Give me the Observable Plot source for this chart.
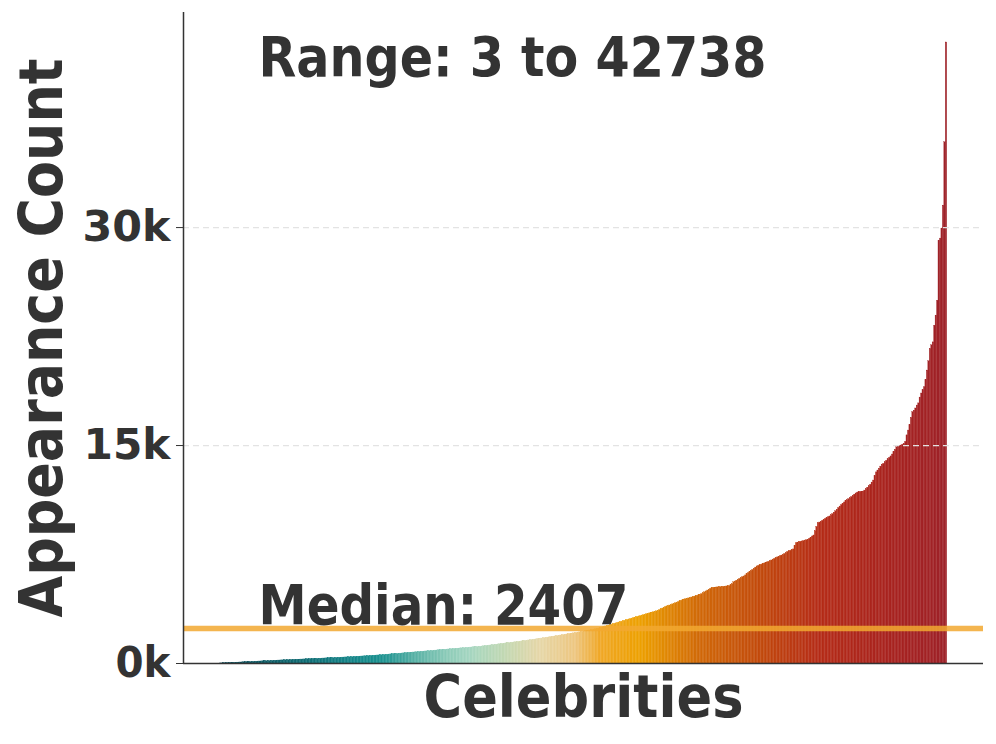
<!DOCTYPE html>
<html><head><meta charset="utf-8">
<script src="https://cdn.jsdelivr.net/npm/d3@7"></script>
<script src="https://cdn.jsdelivr.net/npm/@observablehq/plot@0.6"></script>
<style>body{margin:0;background:#fff;} svg{display:block;}</style>
</head><body><div id="chart"></div>
<script>
// Sorted appearance counts, one per celebrity
const appearanceCounts = [
3, 8, 13, 18, 22, 27, 31, 36, 40, 44,
49, 55, 60, 65, 70, 75, 80, 85, 90, 96,
100, 105, 110, 115, 120, 126, 131, 136, 141, 146,
151, 156, 161, 166, 171, 176, 181, 186, 191, 197,
202, 207, 211, 216, 220, 225, 229, 233, 238, 242,
246, 251, 255, 259, 264, 268, 272, 277, 281, 286,
290, 295, 300, 304, 309, 314, 318, 323, 328, 332,
337, 342, 347, 351, 356, 361, 366, 371, 376, 381,
386, 391, 396, 401, 406, 411, 416, 421, 426, 432,
437, 442, 448, 454, 460, 466, 473, 479, 486, 492,
499, 505, 512, 518, 525, 531, 538, 544, 551, 557,
565, 573, 581, 589, 597, 606, 614, 622, 630, 638,
646, 655, 663, 671, 680, 688, 696, 705, 713, 722,
731, 740, 748, 757, 766, 775, 783, 792, 801, 809,
818, 827, 835, 844, 853, 862, 870, 879, 888, 896,
905, 914, 922, 931, 940, 948, 957, 966, 974, 983,
992, 1000, 1009, 1018, 1026, 1035, 1044, 1052, 1061, 1070,
1078, 1087, 1096, 1104, 1113, 1122, 1130, 1139, 1148, 1156,
1168, 1181, 1194, 1207, 1220, 1233, 1246, 1259, 1272, 1285,
1298, 1311, 1324, 1337, 1350, 1362, 1375, 1387, 1400, 1412,
1425, 1437, 1450, 1462, 1474, 1487, 1499, 1513, 1528, 1542,
1557, 1571, 1586, 1600, 1615, 1630, 1644, 1659, 1673, 1688,
1702, 1718, 1734, 1750, 1766, 1782, 1798, 1814, 1830, 1846,
1862, 1878, 1894, 1910, 1926, 1942, 1958, 1974, 1991, 2008,
2025, 2042, 2058, 2075, 2092, 2109, 2126, 2142, 2159, 2176,
2195, 2215, 2235, 2254, 2274, 2294, 2313, 2333, 2353, 2373,
2395, 2425, 2456, 2487, 2517, 2548, 2579, 2609, 2640, 2670,
2700, 2731, 2761, 2791, 2821, 2852, 2882, 2912, 2942, 2973,
3002, 3032, 3062, 3092, 3122, 3152, 3182, 3212, 3241, 3271,
3300, 3329, 3358, 3388, 3417, 3446, 3475, 3504, 3534, 3563,
3590, 3630, 3680, 3730, 3780, 3830, 3880, 3930, 3960, 3990,
4030, 4070, 4110, 4150, 4190, 4230, 4280, 4320, 4360, 4400,
4430, 4460, 4480, 4510, 4540, 4570, 4600, 4630, 4660, 4700,
4730, 4780, 4840, 4900, 4960, 5020, 5080, 5140, 5190, 5210,
5220, 5230, 5240, 5250, 5260, 5270, 5280, 5290, 5300, 5310,
5320, 5380, 5450, 5590, 5640, 5700, 5760, 5820, 5880, 5940,
5990, 6060, 6140, 6220, 6290, 6370, 6440, 6520, 6600, 6680,
6720, 6760, 6800, 6840, 6880, 6920, 6960, 7000, 7050, 7090,
7150, 7200, 7250, 7300, 7340, 7390, 7430, 7480, 7540, 7600,
7680, 7720, 7760, 7800, 7850, 8100, 8280, 8320, 8350, 8380,
8400, 8430, 8460, 8480, 8520, 8580, 8660, 8740, 8810, 9100,
9400, 9650, 9700, 9750, 9820, 9880, 9950, 10000, 10060, 10120,
10200, 10280, 10380, 10480, 10580, 10700, 10800, 10900, 10990, 11080,
11170, 11240, 11310, 11380, 11460, 11540, 11620, 11700, 11760, 11790,
11800, 11810, 11830, 11900, 12000, 12100, 12200, 12300, 12450, 12590,
12900, 13150, 13280, 13400, 13550, 13680, 13740, 13850, 13950, 14050,
14150, 14250, 14380, 14550, 14700, 14880, 14920, 14960, 15000, 15050,
15100, 15250, 15700, 16030, 16400, 16900, 17300, 17400, 17550, 17750,
17900, 18300, 18580, 18800, 19010, 19500, 20160, 20800, 21650, 21900,
22100, 23250, 23940, 24970, 29100, 29240, 29930, 31510, 35870, 42738
];
const yTicks = [0, 15000, 30000];
const medianValue = 2407;
const rangeMin = 3;
const rangeMax = 42738;
const xAxisLabel = "Celebrities";
const yAxisLabel = "Appearance Count";
// colour gradient along the rank axis
const colorStopRanks = [0, 55, 89, 110, 137, 158, 172, 196, 220, 244, 261, 289, 330, 371, 412, 467, 499];
const colorStopColors = ["#0b4552", "#0f6a72", "#148488", "#1a918f", "#5fb5a8", "#8fccb9", "#a5d6c0", "#c2d8b2",
  "#e6d7a8", "#edc680", "#f0a828", "#eda000", "#d06808", "#c24a0c", "#b52c18", "#a62220", "#9e2229"];

const data = appearanceCounts.map((count, rank) => ({rank, count}));
const n = data.length;
const xPad = (n - 0.1) * 0.05;
const xDomain = [-0.45 - xPad, n - 1 + 0.45 + xPad];
const yDomain = [0, 44800];
const ink = "#333333";
const font = "DejaVu Sans";
const rangeText = `Range: ${rangeMin} to ${rangeMax}`;
const medianText = `Median: ${medianValue}`;

const chart = Plot.plot({
  width: 996, height: 744,
  marginLeft: 183, marginRight: 13, marginTop: 12, marginBottom: 81,
  style: {fontFamily: font, background: "#fff", color: ink, overflow: "visible"},
  x: {domain: xDomain, axis: null},
  y: {domain: yDomain, axis: null},
  color: {type: "linear", domain: colorStopRanks, range: colorStopColors},
  marks: [
    Plot.rect(data, {x1: d => d.rank - 0.5, x2: d => d.rank + 0.5, y1: 0, y2: "count",
      fill: "rank", stroke: "rank", strokeWidth: 0.3}),
    Plot.ruleY(yTicks.filter(t => t > 0), {stroke: "#e3e3e3", strokeWidth: 1.2, strokeDasharray: "6,4"}),
    Plot.ruleY([medianValue], {stroke: "#f2a830", strokeOpacity: 0.85, strokeWidth: 5.5}),
    Plot.ruleY([0], {stroke: ink, strokeWidth: 1.5}),
    Plot.ruleX([xDomain[0]], {stroke: ink, strokeWidth: 1.5}),
    Plot.axisY({ticks: yTicks, tickFormat: d => d / 1000 + "k", tickSize: 7, tickPadding: 6,
      fontSize: 42, fontWeight: "bold", color: ink, label: null}),
    Plot.text([rangeText], {text: d => d, frameAnchor: "top-left", textAnchor: "start", lineAnchor: "middle",
      dx: 75, dy: 46, fontSize: 56, fontWeight: "bold", fill: ink}),
    Plot.text([medianText], {text: d => d, y: () => medianValue, frameAnchor: "left", textAnchor: "start",
      lineAnchor: "middle", dx: 75, dy: -22, fontSize: 56, fontWeight: "bold", fill: ink}),
    Plot.text([xAxisLabel], {text: d => d, frameAnchor: "bottom", textAnchor: "middle", lineAnchor: "middle",
      dy: 35, fontSize: 58, fontWeight: "bold", fill: ink}),
    Plot.text([yAxisLabel], {text: d => d, frameAnchor: "left", textAnchor: "middle", lineAnchor: "middle",
      rotate: -90, dx: -141, fontSize: 61, fontWeight: "bold", fill: ink})
  ]
});

// stretch texts to the wide lettering of the original
const textWidths = new Map([["30k", 88], ["15k", 87], ["0k", 55], [xAxisLabel, 320], [yAxisLabel, 559], [rangeText, 508], [medianText, 370]]);
chart.querySelectorAll("text").forEach(t => {
  const w = textWidths.get(t.textContent);
  if (w) { t.setAttribute("textLength", w); t.setAttribute("lengthAdjust", "spacingAndGlyphs"); }
});
document.getElementById("chart").appendChild(chart);
</script>
</body></html>
